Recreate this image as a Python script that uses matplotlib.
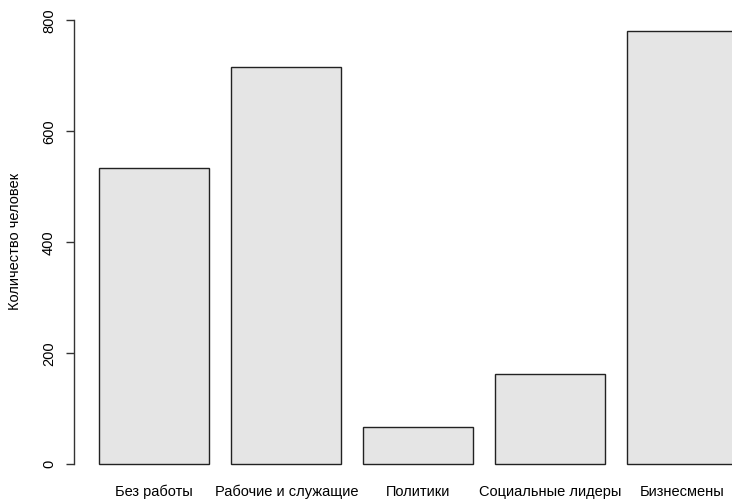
import matplotlib
matplotlib.use("Agg")
import matplotlib.pyplot as plt

categories = ["Без работы", "Рабочие и служащие", "Политики", "Социальные лидеры", "Бизнесмены"]
values = [533, 715, 68, 162, 781]
yticks = [0, 200, 400, 600, 800]

plt.rcParams['font.family'] = ['Liberation Sans', 'DejaVu Sans']

W, H = 732, 499
fig = plt.figure(figsize=(W / 100, H / 100), dpi=100)

# R-style plot region (extends past right edge as in the reference)
x0_px = 77.3          # pixel of x=0 in bar units
ppu_x = 110.0         # pixels per bar unit
xmin, xmax = -0.032, 6.232
ymin, ymax = -31.24, 812.24
y0_px = 464.3
ppu_y = 0.555
left_px = x0_px + xmin * ppu_x
right_px = x0_px + xmax * ppu_x
top_px = y0_px - ymax * ppu_y
bottom_px = y0_px - ymin * ppu_y

ax = fig.add_axes([left_px / W, 1 - bottom_px / H,
                   (right_px - left_px) / W, (bottom_px - top_px) / H])
ax.set_xlim(xmin, xmax)
ax.set_ylim(ymin, ymax)

centers = [0.7 + 1.2 * i for i in range(len(values))]
ax.bar(centers, values, width=1.0, color="#E5E5E5", edgecolor="#222222", linewidth=1.0)

for s in ["top", "right", "bottom"]:
    ax.spines[s].set_visible(False)
ax.spines["left"].set_bounds(0, 800)
ax.spines["left"].set_color("#333333")
ax.spines["left"].set_linewidth(1.0)

fs = 10.5
ax.set_yticks(yticks)
ax.set_yticklabels([str(v) for v in yticks], rotation=90, va="center", fontsize=fs)
ax.tick_params(axis="y", length=5.8, width=1.0, color="#333333", pad=7)
ax.set_xticks([])
for c, lab in zip(centers, categories):
    ax.text(c, -50, lab, ha="center", va="center", fontsize=fs)

fig.text(15 / W, 1 - 241.5 / H, "Количество человек", rotation=90,
         ha="center", va="center", fontsize=fs)

fig.savefig("out.png", dpi=100)
